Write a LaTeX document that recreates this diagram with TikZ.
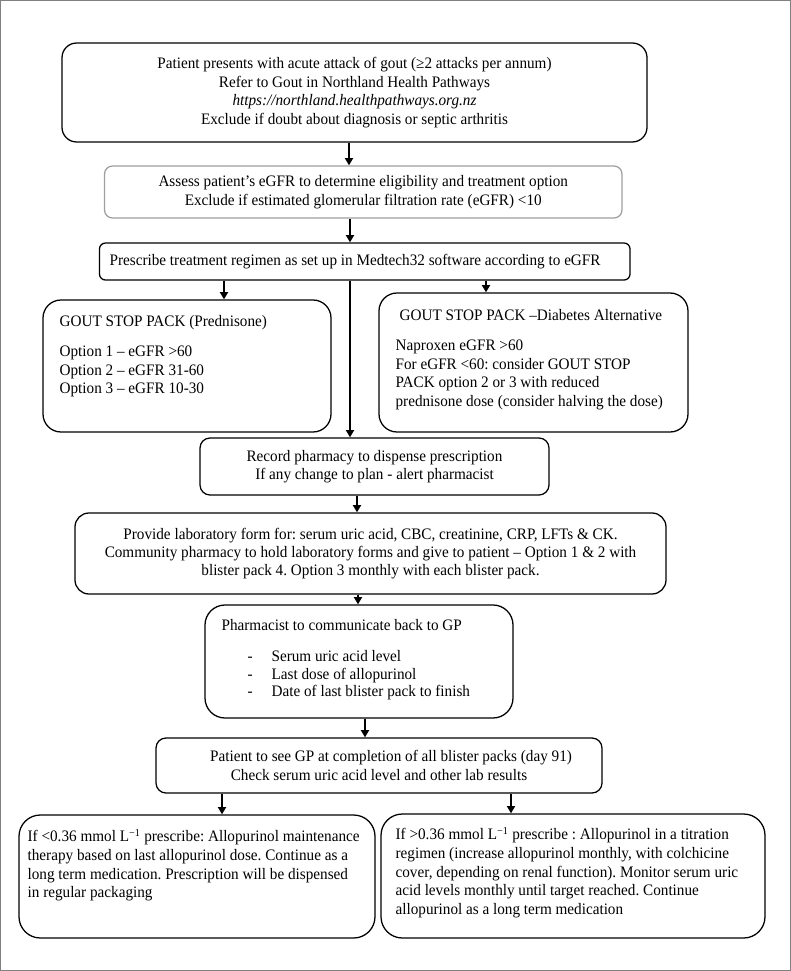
\documentclass[tikz,border=0pt]{standalone}
\usepackage{fontspec}
\setmainfont[FakeStretch=0.95]{Liberation Serif}
\usetikzlibrary{arrows.meta,calc}
\newcommand{\fsz}{\fontsize{12}{13.8}\selectfont}
\frenchspacing
\begin{document}
\begin{tikzpicture}[x=0.75pt,y=-0.75pt,
  frame/.style={draw=black!50, line width=1.1pt},
  box/.style={draw=black, line width=0.95pt, inner sep=0pt, font=\fsz, align=center},
  graybox/.style={box, draw=black!38},
  arr/.style={line width=1.5pt, -{Triangle[width=6pt,length=5.5pt]}},
  txt/.style={inner sep=0pt, anchor=north west, align=left, font=\fsz}]
\useasboundingbox (0,0) rectangle (791,971);
\draw[frame] (0.75,0.75) rectangle (790.25,970.25);

% boxes
\node[box, rounded corners=11pt, minimum width=438.75pt, minimum height=74.25pt] (b1) at (354.5,92.5)
  {Patient presents with acute attack of gout (≥2 attacks per annum)\\
   Refer to Gout in Northland Health Pathways\\
   \textit{https://northland.healthpathways.org.nz}\\
   Exclude if doubt about diagnosis or septic arthritis};
\node[graybox, rounded corners=6pt, minimum width=388.1pt, minimum height=39pt] (b2) at (363.25,192)
  {Assess patient’s eGFR to determine eligibility and treatment option\\
   Exclude if estimated glomerular filtration rate (eGFR) <10};
\node[box, rounded corners=4.5pt, minimum width=397.9pt, minimum height=27.75pt] (b3) at (364.75,261.5) {};
\node[box, rounded corners=13.5pt, minimum width=216pt, minimum height=99pt] (b4) at (187,366) {};
\node[box, rounded corners=13.5pt, minimum width=231.75pt, minimum height=104.25pt] (b5) at (533.5,362.5) {};
\node[box, rounded corners=7.5pt, minimum width=261.75pt, minimum height=42.75pt] (b6) at (374.5,466.5)
  {Record pharmacy to dispense prescription\\
   If any change to plan - alert pharmacist};
\node[box, rounded corners=10.5pt, minimum width=443.25pt, minimum height=60.75pt] (b7) at (370.5,553.5)
  {Provide laboratory form for: serum uric acid, CBC, creatinine, CRP, LFTs \& CK.\\
   Community pharmacy to hold laboratory forms and give to patient – Option 1 \& 2 with\\
   blister pack 4. Option 3 monthly with each blister pack.};
\node[box, rounded corners=15pt, minimum width=231pt, minimum height=84.75pt] (b8) at (359,661.5) {};
\node[box, rounded corners=7.5pt, minimum width=334.5pt, minimum height=41.25pt] (b9) at (379,765.5)
  {\hspace*{18pt}Patient to see GP at completion of all blister packs (day 91)\\
   Check serum uric acid level and other lab results};
\node[box, rounded corners=16pt, minimum width=267pt, minimum height=92.25pt] (b10) at (197,876.5) {};
\node[box, rounded corners=16pt, minimum width=288pt, minimum height=93pt] (b11) at (573,876) {};

% left-aligned texts
\node[txt, anchor=west] (t3) at ($(b3.west)+(10.5,0)$)
  {\strut Prescribe treatment regimen as set up in Medtech32 software according to eGFR};
\node[txt] (t4) at ($(b4.north west)+(17,14.2)$)
  {\strut GOUT STOP PACK (Prednisone)\\[8.8pt]
   Option 1 – eGFR >60\\
   Option 2 – eGFR 31-60\\
   Option 3 – eGFR 10-30};
\node[txt, font=\fontsize{12}{14.2}\selectfont] (t5) at ($(b5.north west)+(17,14.2)$)
  {\strut\hspace*{3pt}GOUT STOP PACK –Diabetes Alternative\\[8.3pt]
   Naproxen eGFR >60\\
   For eGFR <60: consider GOUT STOP\\
   PACK option 2 or 3 with reduced\\
   prednisone dose (consider halving the dose)};
\node[txt] (t8) at ($(b8.north west)+(17,13.2)$)
  {\strut Pharmacist to communicate back to GP\\[9.5pt]
   \hspace*{19.5pt}\makebox[18pt][l]{-}Serum uric acid level\\[-0.7pt]
   \hspace*{19.5pt}\makebox[18pt][l]{-}Last dose of allopurinol\\[-0.7pt]
   \hspace*{19.5pt}\makebox[18pt][l]{-}Date of last blister pack to finish};
\node[txt, font=\fontsize{12}{14}\selectfont] (t10) at ($(b10.north west)+(9,14.2)$)
  {\strut If <0.36 mmol L\textsuperscript{−1} prescribe: Allopurinol maintenance\\
   therapy based on last allopurinol dose. Continue as a\\
   long term medication. Prescription will be dispensed\\
   in regular packaging};
\node[txt, font=\fontsize{12}{14}\selectfont] (t11) at ($(b11.north west)+(15,13.2)$)
  {\strut If >0.36 mmol L\textsuperscript{−1} prescribe : Allopurinol in a titration\\
   regimen (increase allopurinol monthly, with colchicine\\
   cover, depending on renal function). Monitor serum uric\\
   acid levels monthly until target reached. Continue\\
   allopurinol as a long term medication};

% connectors
\coordinate (x1) at (349,0);
\coordinate (x2) at (350,0);
\coordinate (x3) at (224,0);
\coordinate (x4) at (350,0);
\coordinate (x5) at (486,0);
\coordinate (x6) at (357,0);
\coordinate (x7) at (358,0);
\coordinate (x8) at (365,0);
\coordinate (x9) at (222,0);
\coordinate (x10) at (511,0);
\draw[arr] (b1.south -| x1) -- (b2.north -| x1);
\draw[arr] (b2.south -| x2) -- (b3.north -| x2);
\draw[arr] (b3.south -| x3) -- (b4.north -| x3);
\draw[arr] (b3.south -| x4) -- (b6.north -| x4);
\draw[arr] (b3.south -| x5) -- (b5.north -| x5);
\draw[arr] (b6.south -| x6) -- (b7.north -| x6);
\draw[arr] (b7.south -| x7) -- (b8.north -| x7);
\draw[arr] (b8.south -| x8) -- (b9.north -| x8);
\draw[arr] (b9.south -| x9) -- (b10.north -| x9);
\draw[arr] (b9.south -| x10) -- (b11.north -| x10);
\end{tikzpicture}
\end{document}
